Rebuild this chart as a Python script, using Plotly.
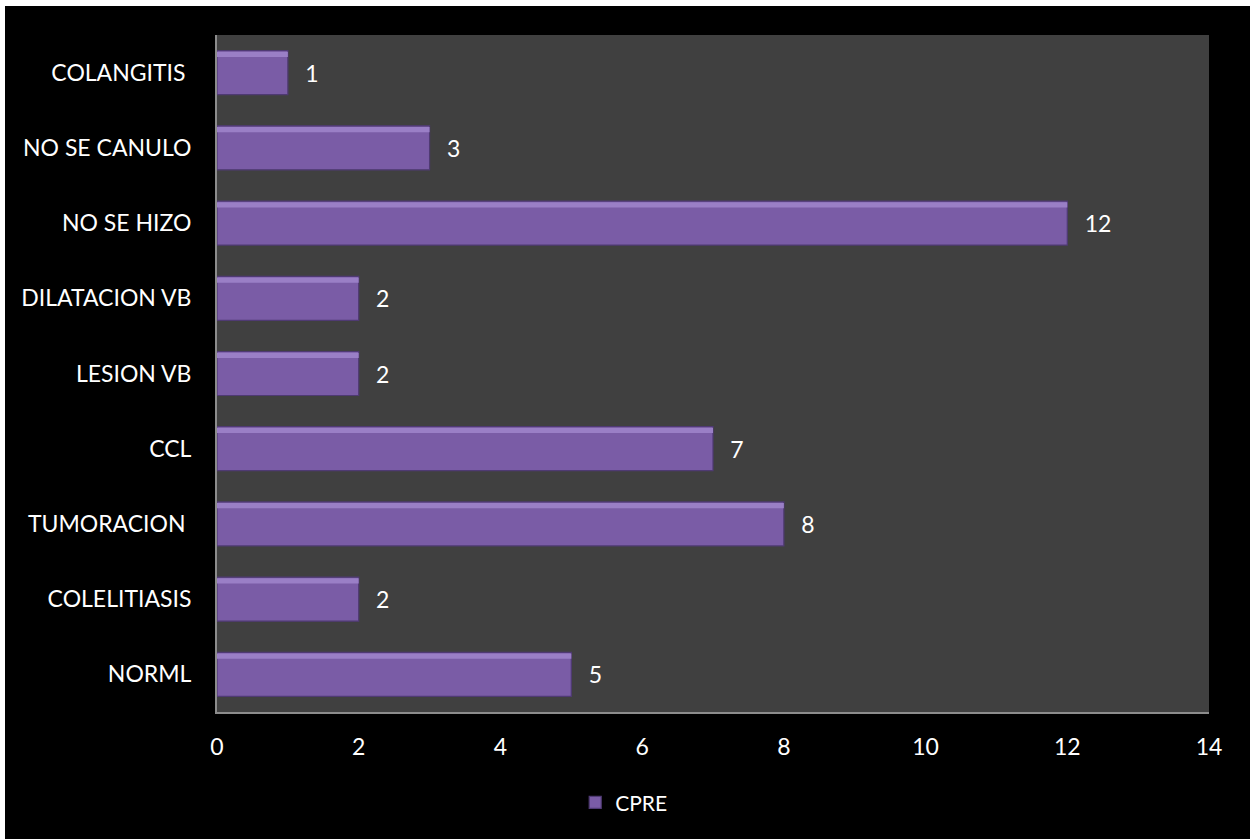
import plotly.graph_objects as go

categories = ["NORML", "COLELITIASIS", "TUMORACION\u00a0", "CCL", "LESION VB",
              "DILATACION VB", "NO SE HIZO", "NO SE CANULO", "COLANGITIS\u00a0"]
values = [5, 2, 8, 7, 2, 2, 12, 3, 1]
series_name = "CPRE"
x_ticks = [0, 2, 4, 6, 8, 10, 12, 14]

FONT = "Lato"
FS = 23
BAR_W = 0.585

fig = go.Figure()
fig.add_trace(go.Bar(
    y=categories, x=values, orientation="h", name=series_name,
    width=BAR_W,
    marker=dict(color="#7a5ca6", line=dict(color="#4f3a73", width=1.2)),
    text=values, texttemplate="\u2002\u2009%{x}", textposition="outside",
    textfont=dict(color="white", size=FS, family=FONT),
    cliponaxis=False,
))
# top highlight strip (bevel look)
fig.add_trace(go.Bar(
    y=categories, x=values, orientation="h", name=series_name,
    width=0.07, offset=BAR_W / 2 - 0.085,
    marker=dict(color="#9a7fc6", line=dict(width=0)),
    showlegend=False, hoverinfo="skip",
))

fig.update_layout(
    width=1245, height=833,
    paper_bgcolor="black", plot_bgcolor="#404040",
    margin=dict(l=212, r=41, t=29, b=127, autoexpand=False),
    barmode="overlay",
    font=dict(family=FONT, color="white", size=FS),
    xaxis=dict(range=[0, 14], tickvals=x_ticks, showgrid=False, zeroline=False,
               showline=True, linecolor="#8c8c8c", linewidth=2, ticks="",
               ticklabelstandoff=13, tickfont=dict(size=FS, color="white"),
               automargin=False),
    yaxis=dict(showgrid=False, zeroline=False, showline=True, linecolor="#8c8c8c",
               linewidth=2, ticks="", ticklabelstandoff=19,
               tickfont=dict(size=FS, color="white"), automargin=False),
    legend=dict(orientation="h", x=0.41, xanchor="center",
                y=-0.134, yanchor="middle", font=dict(size=21, color="white"),
                bgcolor="rgba(0,0,0,0)"),
)

fig.write_html(
    "out.html",
    post_script="document.body.style.margin='6px 0 0 5px';"
                "document.body.style.overflow='hidden';",
)
